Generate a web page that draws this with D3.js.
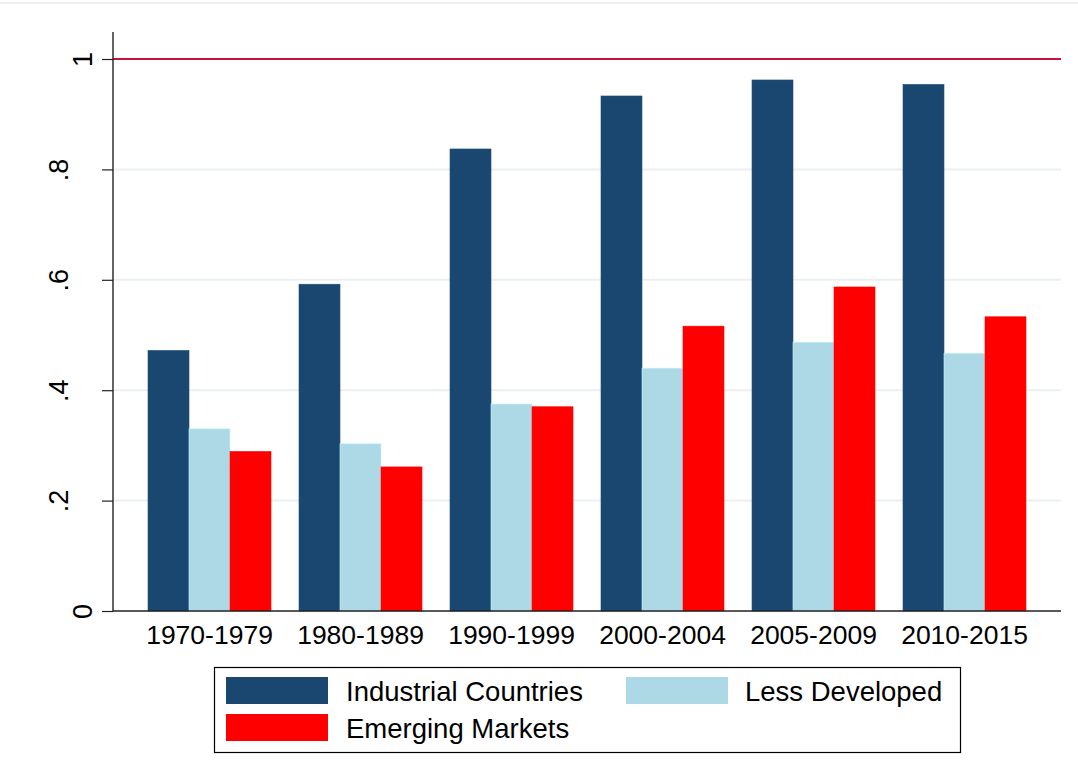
<!DOCTYPE html>
<html>
<head>
<meta charset="utf-8">
<script src="https://cdn.jsdelivr.net/npm/d3@7"></script>
<style>
  html, body { margin: 0; padding: 0; background: #fff; }
  svg { display: block; font-family: "Liberation Sans", Arial, sans-serif; }
</style>
</head>
<body>
<svg id="chart" width="1078" height="784"></svg>
<script>
const categories = ["1970-1979", "1980-1989", "1990-1999", "2000-2004", "2005-2009", "2010-2015"];
const seriesNames = ["Industrial Countries", "Less Developed", "Emerging Markets"];
const industrial = [0.472, 0.592, 0.837, 0.933, 0.962, 0.954];
const lessDeveloped = [0.330, 0.303, 0.375, 0.440, 0.487, 0.467];
const emerging = [0.289, 0.261, 0.370, 0.516, 0.587, 0.533];
const yTicks = [0, 0.2, 0.4, 0.6, 0.8, 1];
const yTickLabels = ["0", ".2", ".4", ".6", ".8", "1"];
const refLine = 1;

const colors = ["#1a476f", "#add8e6", "#ff0000"];
const seriesValues = [industrial, lessDeveloped, emerging];

const svg = d3.select("#chart");
const pLeft = 113, pRight = 1061, pTop = 32, pBottom = 611;

const y = d3.scaleLinear().domain([0, 1]).range([611, 59]);
const x0 = d3.scaleBand().domain(categories).range([pLeft, pRight])
  .paddingInner(28 / 151).paddingOuter(35 / 151);
const x1 = d3.scaleBand().domain(seriesNames).range([0, x0.bandwidth()]);

// faint border line at top
svg.append("line").attr("x1", 0).attr("x2", 1078).attr("y1", 3).attr("y2", 3)
  .attr("stroke", "#e8e8e8").attr("stroke-width", 1.5);

// gridlines
svg.append("g").selectAll("line").data(yTicks.filter(d => d > 0 && d < 1)).join("line")
  .attr("x1", pLeft).attr("x2", pRight)
  .attr("y1", d => y(d)).attr("y2", d => y(d))
  .attr("stroke", "#eaf0f2").attr("stroke-width", 2);

// bars
const rows = categories.map((c, i) => ({ cat: c, vals: seriesNames.map((s, j) => ({ s, j, v: seriesValues[j][i] })) }));
svg.append("g").selectAll("g").data(rows).join("g")
  .attr("transform", d => `translate(${x0(d.cat)},0)`)
  .selectAll("rect").data(d => d.vals).join("rect")
  .attr("x", d => x1(d.s))
  .attr("width", x1.bandwidth())
  .attr("y", d => y(d.v))
  .attr("height", d => y(0) - y(d.v))
  .attr("fill", d => colors[d.j])
  .attr("stroke", d => d3.color(colors[d.j]).brighter(0.4))
  .attr("stroke-width", 0.6);

// reference line at 1
svg.append("line").attr("x1", pLeft).attr("x2", pRight)
  .attr("y1", y(refLine)).attr("y2", y(refLine))
  .attr("stroke", "#c8103c").attr("stroke-width", 2.2);

// y axis
const yAxis = d3.axisLeft(y).tickValues(yTicks).tickFormat((d, i) => yTickLabels[i]).tickSize(11).tickPadding(0);
const gy = svg.append("g").attr("transform", `translate(${pLeft},0)`).call(yAxis);
gy.select(".domain").remove();
gy.selectAll(".tick line").attr("stroke", "#222").attr("stroke-width", 1.2);
gy.selectAll(".tick text").remove();
gy.selectAll(".tick").append("text")
  .attr("transform", (d, i) => `translate(${yTickLabels[i].length > 1 ? -45 : -21},0) rotate(-90)`)
  .attr("text-anchor", "middle")
  .attr("fill", "#000")
  .style("font-size", "27px")
  .text((d, i) => yTickLabels[i]);
svg.append("line").attr("x1", pLeft).attr("x2", pLeft).attr("y1", pTop).attr("y2", pBottom)
  .attr("stroke", "#222").attr("stroke-width", 1.4);

// x axis
const xAxis = d3.axisBottom(x0).tickSize(0).tickPadding(14);
const gx = svg.append("g").attr("transform", `translate(0,${pBottom})`).call(xAxis);
gx.select(".domain").remove();
gx.selectAll(".tick text").attr("fill", "#000").style("font-size", "26.5px").attr("dy", "0.71em");
svg.append("line").attr("x1", pLeft).attr("x2", pRight).attr("y1", pBottom).attr("y2", pBottom)
  .attr("stroke", "#222").attr("stroke-width", 1.6);

// legend
const lg = svg.append("g");
lg.append("rect").attr("x", 214.5).attr("y", 667.5).attr("width", 746).attr("height", 85)
  .attr("fill", "#fff").attr("stroke", "#000").attr("stroke-width", 1.2);
const legendPos = [
  { sx: 226, sy: 677, tx: 346 },
  { sx: 626, sy: 677, tx: 745 },
  { sx: 226, sy: 714, tx: 346 }
];
seriesNames.forEach((name, i) => {
  const p = legendPos[i];
  lg.append("rect").attr("x", p.sx).attr("y", p.sy).attr("width", 102).attr("height", 27)
    .attr("fill", colors[i]);
  lg.append("text").attr("x", p.tx).attr("y", p.sy + 24)
    .attr("fill", "#000").style("font-size", "27.5px").text(name);
});
</script>
</body>
</html>
